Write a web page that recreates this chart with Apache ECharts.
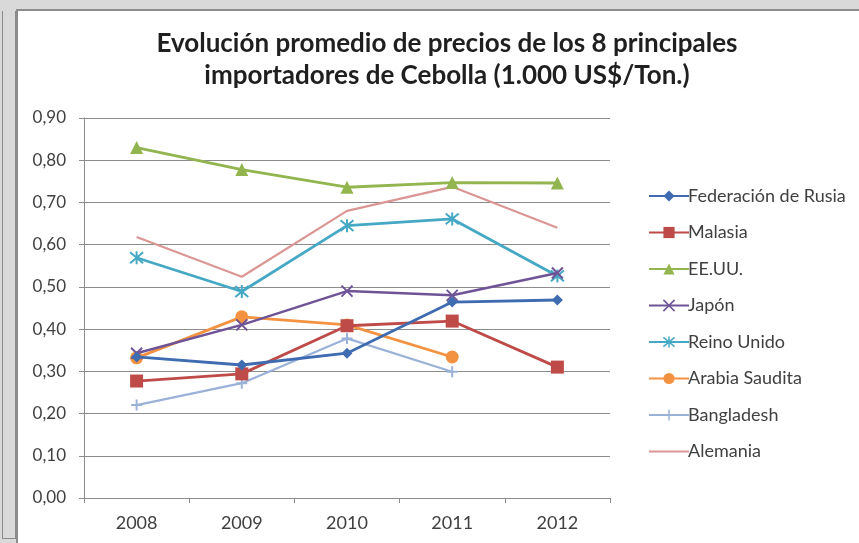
<!DOCTYPE html>
<html><head><meta charset="utf-8">
<script src="https://cdn.jsdelivr.net/npm/echarts@6/dist/echarts.min.js"></script>
<style>
html,body{margin:0;padding:0;width:859px;height:543px;overflow:hidden;background:#d9d9d9;}
#panelL{position:absolute;left:2px;top:11px;width:12px;height:527px;border:1px solid #8a8a8a;border-top:none;background:#d9d9d9;}
#white{position:absolute;left:16px;top:9px;width:843px;height:534px;background:#fff;border-left:2px solid #8c8c8c;border-top:2px solid #8c8c8c;}
#chart{position:absolute;left:0;top:0;width:859px;height:543px;}
</style></head>
<body>
<div id="panelL"></div>
<div id="white"></div>
<div id="chart"></div>
<script>
var categories = ['2008','2009','2010','2011','2012'];
var titleLines = ['Evolución promedio de precios de los 8 principales','importadores de Cebolla (1.000 US$/Ton.)'];
var seriesNames = ['Federación de Rusia','Malasia','EE.UU.','Japón','Reino Unido','Arabia Saudita','Bangladesh','Alemania'];
var rusia = [0.334, 0.315, 0.343, 0.464, 0.469];
var malasia = [0.277, 0.294, 0.408, 0.419, 0.310];
var eeuu = [0.830, 0.778, 0.736, 0.747, 0.746];
var japon = [0.343, 0.410, 0.490, 0.480, 0.533];
var reinoUnido = [0.569, 0.489, 0.645, 0.661, 0.526];
var arabia = [0.332, 0.429, 0.410, 0.334, null];
var bangladesh = [0.220, 0.272, 0.378, 0.299, null];
var alemania = [0.618, 0.524, 0.680, 0.737, 0.640];
var yTicks = [0, 0.9, 0.1];

var colors = ['#3f6cb0','#be4b48','#93b54f','#6e5497','#45a8c4','#f39240','#9bb2d8','#d99694'];
var symbols = ['diamond','rect','triangle',
  'path://M0,0L10,10M10,0L0,10',
  'path://M0,0L10,10M10,0L0,10M5,-1L5,11',
  'circle',
  'path://M5,0L5,10M0,5L10,5',
  'none'];
var sizes = [11, 13, 13, 11, 13, 13, 11, 0];
var widths = [2.8, 2.8, 2.8, 2.5, 2.8, 2.8, 2.2, 2.2];
var dataArr = [rusia, malasia, eeuu, japon, reinoUnido, arabia, bangladesh, alemania];

var chart = echarts.init(document.getElementById('chart'), null, {renderer:'canvas'});
var FONT = 'Lato';
function isPath(i){ return symbols[i].indexOf('path://')===0; }
var series = seriesNames.map(function(n,i){
  return {
    name:n, type:'line', data:dataArr[i],
    symbol:symbols[i], symbolSize:sizes[i],
    showSymbol: symbols[i] !== 'none',
    connectNulls:false,
    z: 10 - i,
    lineStyle:{color:colors[i], width:widths[i]},
    itemStyle: isPath(i) ? {color:'transparent', borderColor:colors[i], borderWidth:2} : {color:colors[i]},
    emphasis:{disabled:true},
    animation:false
  };
});
chart.setOption({
  animation:false,
  color: colors,
  title:{
    text: titleLines.join('\n'),
    left: 442, top: 23, textAlign:'center',
    textStyle:{fontFamily:FONT, fontWeight:'bold', fontSize:26, color:'#1f1f1f', lineHeight:32}
  },
  grid:{left:84, top:118, width:526, height:380, containLabel:false},
  legend:{
    orient:'vertical', left:643, top:182,
    itemWidth:40, itemHeight:14, itemGap:18.5,
    textStyle:{fontFamily:FONT, fontSize:18, color:'#404040', padding:[0,0,0,-6]},
    data: seriesNames.map(function(n,i){
      var st;
      if (symbols[i] === 'none') st = {color:'transparent', borderWidth:0, opacity:0};
      else if (isPath(i)) st = {color:'transparent', borderColor:colors[i], borderWidth:1.5};
      else st = {color:colors[i]};
      return {name:n, itemStyle: st};
    })
  },
  xAxis:{
    type:'category', data:categories, boundaryGap:true,
    axisLine:{lineStyle:{color:'#8c8c8c', width:1}},
    axisTick:{show:true, length:5, lineStyle:{color:'#8c8c8c'}},
    axisLabel:{fontFamily:FONT, fontSize:18, color:'#404040', margin:16}
  },
  yAxis:{
    type:'value', min:yTicks[0], max:yTicks[1], interval:yTicks[2],
    axisLine:{show:true, lineStyle:{color:'#8c8c8c'}},
    axisTick:{show:true, length:5, lineStyle:{color:'#8c8c8c'}},
    splitLine:{lineStyle:{color:'#8c8c8c', width:1}},
    axisLabel:{fontFamily:FONT, fontSize:17, color:'#404040', margin:18,
      formatter:function(v){return v.toFixed(2).replace('.',',');}}
  },
  series: series
});
</script>
</body></html>
